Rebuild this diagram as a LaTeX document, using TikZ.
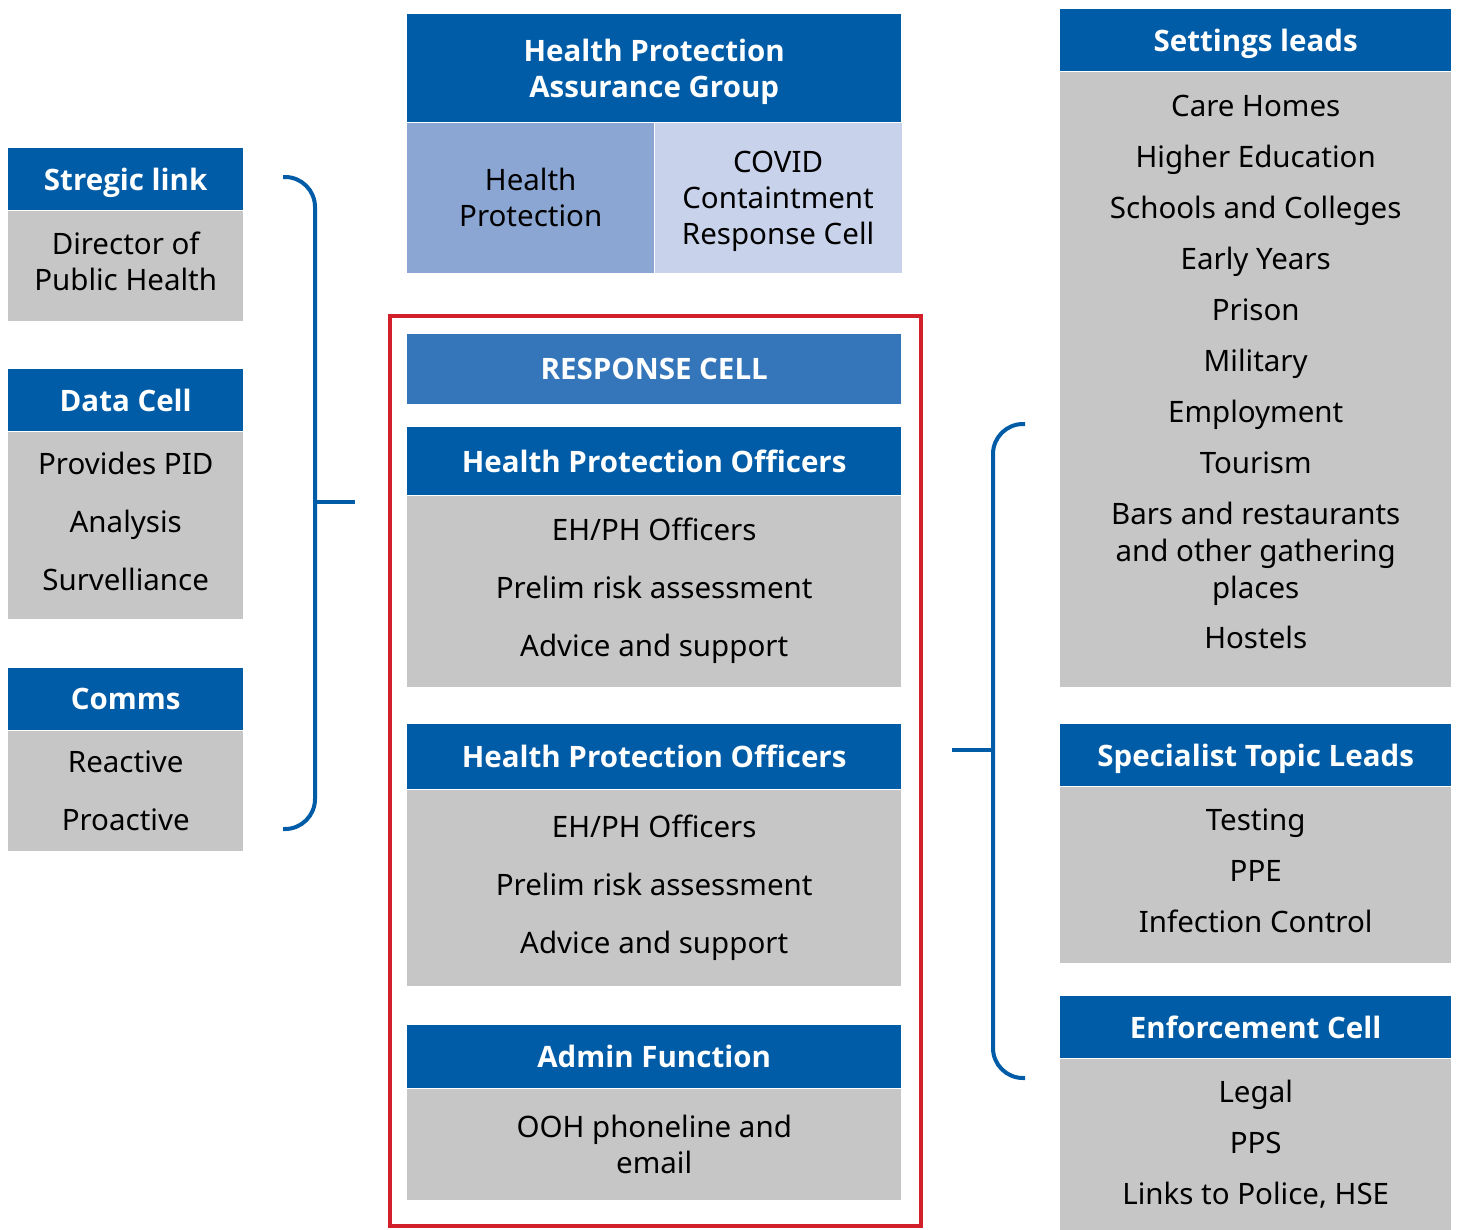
\documentclass[tikz,border=0pt]{standalone}
\usepackage{fontspec}
\setmainfont{Noto Sans}
\newfontfamily\headfont{Open Sans}
\usetikzlibrary{positioning}
\definecolor{hpblue}{RGB}{0,92,166}
\definecolor{respblue}{RGB}{52,118,185}
\definecolor{hplight}{RGB}{139,166,211}
\definecolor{covidlight}{RGB}{200,211,235}
\definecolor{boxgray}{RGB}{198,198,198}
\definecolor{framered}{RGB}{210,32,42}

\begin{document}
\begin{tikzpicture}[
  x=1pt,y=-1pt,
  node distance=0pt,
  head/.style={fill=hpblue,text=white,font=\headfont\bfseries\fontsize{29.5}{36}\selectfont,inner sep=0pt,align=center,minimum height=62pt,text depth=0pt},
  body/.style={fill=boxgray,font=\fontsize{29.5}{36}\selectfont,inner sep=0pt,align=center},
  leftcol/.style={minimum width=235pt},
  midcol/.style={minimum width=494pt},
  rightcol/.style={minimum width=391pt},
  brace/.style={draw=hpblue,line width=4pt,rounded corners=30pt}
]
  \useasboundingbox[fill=white] (0,0) rectangle (1459,1229);

  \node[head,leftcol,anchor=north west] (strat) at (8,148) {Stregic link};
  \node[body,leftcol,below=of strat,minimum height=110pt,text depth=8pt] (dph) {Director of\\Public Health};
  \node[head,leftcol,anchor=north west] (data) at (8,369) {Data Cell};
  \node[body,leftcol,below=of data,minimum height=187pt,text depth=7pt] (datalist) {Provides PID\\[22pt]Analysis\\[22pt]Survelliance};
  \node[head,leftcol,anchor=north west] (comms) at (8,668) {Comms};
  \node[body,leftcol,below=of comms,minimum height=120pt] (commslist) {Reactive\\[22pt]Proactive};

  \node[head,midcol,anchor=north west,minimum height=108pt] (hpag) at (407,14) {Health Protection\\Assurance Group};
  \node[body,fill=hplight,anchor=north west,minimum width=247pt,minimum height=150pt,text depth=-3pt] (hp) at (hpag.south west) {Health\\Protection};
  \node[body,fill=covidlight,right=of hp,minimum width=247pt,minimum height=150pt,text depth=-3pt] (covid) {COVID\\Containtment\\Response Cell};

  \node[draw=framered,line width=4pt,anchor=north west,minimum width=531pt,minimum height=910pt] (frame) at (388,314) {};
  \node[head,midcol,fill=respblue,anchor=north west,minimum height=70pt,text depth=-6pt] (resp) at (407,334) {RESPONSE CELL};
  \node[head,midcol,anchor=north west,minimum height=68pt,text depth=-6pt] (hpo1) at (407,427) {Health Protection Officers};
  \node[body,midcol,below=of hpo1,minimum height=191pt] (hpo1list) {EH/PH Officers\\[22pt]Prelim risk assessment\\[22pt]Advice and support};
  \node[head,midcol,anchor=north west,minimum height=65pt] (hpo2) at (407,724) {Health Protection Officers};
  \node[body,midcol,below=of hpo2,minimum height=196pt] (hpo2list) {EH/PH Officers\\[22pt]Prelim risk assessment\\[22pt]Advice and support};
  \node[head,midcol,anchor=north west,minimum height=63pt] (admin) at (407,1025) {Admin Function};
  \node[body,midcol,below=of admin,minimum height=111pt] (adminlist) {OOH phoneline and\\email};

  \node[head,rightcol,anchor=north west] (settings) at (1060,9) {Settings leads};
  \node[body,rightcol,below=of settings,minimum height=615pt,text depth=14pt] (settingslist) {Care Homes\\[15pt]Higher Education\\[15pt]Schools and Colleges\\[15pt]Early Years\\[15pt]Prison\\[15pt]Military\\[15pt]Employment\\[15pt]Tourism\\[15pt]Bars and restaurants\\[1pt]and other gathering\\[1pt]places\\[14pt]Hostels};
  \node[head,rightcol,anchor=north west] (topics) at (1060,724) {Specialist Topic Leads};
  \node[body,rightcol,below=of topics,minimum height=176pt,text depth=7pt] (topicslist) {Testing\\[15pt]PPE\\[15pt]Infection Control};
  \node[head,rightcol,anchor=north west] (enforce) at (1060,996) {Enforcement Cell};
  \node[body,rightcol,below=of enforce,minimum height=171pt] (enforcelist) {Legal\\[15pt]PPS\\[15pt]Links to Police, HSE};

  \coordinate (lbtop) at (283,177);
  \coordinate (lbbot) at (283,829);
  \coordinate (lbtip) at (355,502);
  \draw[brace] (lbtop) -- (315,177) -- (315,829) -- (lbbot);
  \draw[brace] (315,502) -- (lbtip);

  \coordinate (rbtop) at (1025,424);
  \coordinate (rbbot) at (1025,1078);
  \coordinate (rbtip) at (952,750);
  \draw[brace] (rbtop) -- (993,424) -- (993,1078) -- (rbbot);
  \draw[brace] (993,750) -- (rbtip);
\end{tikzpicture}
\end{document}
